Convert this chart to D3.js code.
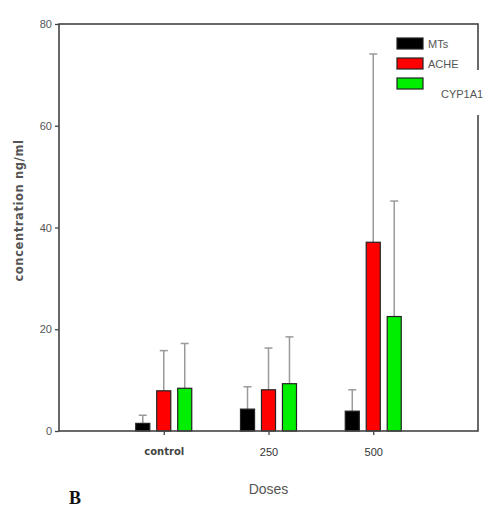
<!DOCTYPE html>
<html>
<head>
<meta charset="utf-8">
<script src="https://cdn.jsdelivr.net/npm/d3@7"></script>
<style>
  body { margin: 0; background: #fff; }
  svg { display: block; }
  .tick-label { font-family: "Liberation Sans Narrow", "Liberation Sans", Arial, sans-serif; fill: #555; }
</style>
</head>
<body>
<div id="chart"></div>
<script>
// data
const doses = ["control", "250", "500"]
const series = ["MTs", "ACHE", "CYP1A1"]
const colors = ["#000000", "#ff0000", "#00ee00"]

const mtsMean = [1.5, 4.3, 3.9]
const mtsErr = [1.6, 4.4, 4.2]
const acheMean = [7.9, 8.1, 37.1]
const acheErr = [7.9, 8.2, 37.0]
const cypMean = [8.4, 9.3, 22.5]
const cypErr = [8.8, 9.2, 22.7]

const yTicks = [0, 20, 40, 60, 80]

const means = [mtsMean, acheMean, cypMean]
const errs = [mtsErr, acheErr, cypErr]

const dataset = []
doses.forEach((dose, i) => {
  series.forEach((s, j) => {
    dataset.push({ dose: dose, series: s, value: means[j][i], err: errs[j][i], color: colors[j] })
  })
})

let dimensions = {
  width: 491,
  height: 507,
  margin: { top: 24, right: 13, bottom: 76, left: 59 },
}
dimensions.boundedWidth = dimensions.width - dimensions.margin.left - dimensions.margin.right
dimensions.boundedHeight = dimensions.height - dimensions.margin.top - dimensions.margin.bottom

const wrapper = d3.select("#chart")
  .append("svg")
    .attr("width", dimensions.width)
    .attr("height", dimensions.height)

const bounds = wrapper.append("g")
    .attr("transform", `translate(${dimensions.margin.left},${dimensions.margin.top})`)

// scales
const xScale = d3.scalePoint()
  .domain(doses)
  .range([0, dimensions.boundedWidth])
  .padding(1)

const subScale = d3.scaleBand()
  .domain(series)
  .range([-28, 28])
  .paddingInner(0.33)

const yScale = d3.scaleLinear()
  .domain([0, 80])
  .range([dimensions.boundedHeight, 0])

// error bars (drawn first, behind bars)
const errG = bounds.append("g")
errG.selectAll("line.err")
  .data(dataset)
  .enter().append("line")
    .attr("x1", d => xScale(d.dose) + subScale(d.series) + subScale.bandwidth() / 2)
    .attr("x2", d => xScale(d.dose) + subScale(d.series) + subScale.bandwidth() / 2)
    .attr("y1", d => yScale(d.value))
    .attr("y2", d => yScale(d.value + d.err))
    .attr("stroke", "#9a9a9a")
    .attr("stroke-width", 1.5)
errG.selectAll("line.cap")
  .data(dataset)
  .enter().append("line")
    .attr("x1", d => xScale(d.dose) + subScale(d.series) + subScale.bandwidth() / 2 - 4)
    .attr("x2", d => xScale(d.dose) + subScale(d.series) + subScale.bandwidth() / 2 + 4)
    .attr("y1", d => yScale(d.value + d.err))
    .attr("y2", d => yScale(d.value + d.err))
    .attr("stroke", "#9a9a9a")
    .attr("stroke-width", 1.5)

// bars
bounds.append("g").selectAll("rect")
  .data(dataset)
  .enter().append("rect")
    .attr("x", d => xScale(d.dose) + subScale(d.series))
    .attr("y", d => yScale(d.value))
    .attr("width", subScale.bandwidth())
    .attr("height", d => dimensions.boundedHeight - yScale(d.value))
    .attr("fill", d => d.color)
    .attr("stroke", "#222")
    .attr("stroke-width", 1.2)

// frame
bounds.append("rect")
  .attr("x", 0).attr("y", 0)
  .attr("width", dimensions.boundedWidth)
  .attr("height", dimensions.boundedHeight)
  .attr("fill", "none")
  .attr("stroke", "#444")
  .attr("stroke-width", 1.6)

// axes
const yAxis = bounds.append("g")
  .call(d3.axisLeft(yScale).tickValues(yTicks).tickSize(4).tickPadding(3))
yAxis.select(".domain").remove()
yAxis.selectAll(".tick line").attr("stroke", "#444").attr("stroke-width", 1.3)
yAxis.selectAll(".tick text")
  .attr("class", "tick-label")
  .style("font-size", "11px")

const xAxis = bounds.append("g")
  .attr("transform", `translate(0,${dimensions.boundedHeight})`)
  .call(d3.axisBottom(xScale).tickSize(4).tickPadding(13))
xAxis.select(".domain").remove()
xAxis.selectAll(".tick line").attr("stroke", "#444").attr("stroke-width", 1.3)
xAxis.selectAll(".tick text")
  .attr("class", "tick-label")
  .style("font-size", "11px")
  .style("fill", "#333")
xAxis.selectAll(".tick text").filter(d => d === "control")
  .style("font-family", "'DejaVu Sans', sans-serif")
  .style("font-size", "10px")
  .style("font-weight", "bold")
  .style("fill", "#444")

// axis labels
bounds.append("text")
  .attr("transform", `translate(${-36},${dimensions.boundedHeight / 2 - 17}) rotate(-90)`)
  .attr("text-anchor", "middle")
  .style("font-family", "'DejaVu Sans', sans-serif")
  .style("font-size", "11.5px")
  .style("font-weight", "bold")
  .style("fill", "#555")
  .style("letter-spacing", "0.6px")
  .text("concentration  ng/ml")

bounds.append("text")
  .attr("x", xScale("250"))
  .attr("y", dimensions.boundedHeight + 63)
  .attr("text-anchor", "middle")
  .style("font-family", "'Liberation Sans Narrow', 'Liberation Sans', Arial, sans-serif")
  .style("font-size", "14px")
  .style("fill", "#555")
  .text("Doses")

wrapper.append("text")
  .attr("x", 75)
  .attr("y", 504)
  .attr("text-anchor", "middle")
  .style("font-family", "'Liberation Serif', 'DejaVu Serif', serif")
  .style("font-size", "18px")
  .style("font-weight", "bold")
  .style("fill", "#111")
  .text("B")

// legend
const legend = wrapper.append("g")

legend.append("rect")
  .attr("x", 428).attr("y", 70)
  .attr("width", 60).attr("height", 45)
  .attr("fill", "#fff")

const legendItems = legend.selectAll("g.item")
  .data(series)
  .enter().append("g")
    .attr("transform", (d, i) => `translate(397,${38 + i * 20})`)

legendItems.append("rect")
  .attr("width", 26)
  .attr("height", 11)
  .attr("fill", (d, i) => colors[i])
  .attr("stroke", "#222")
  .attr("stroke-width", 1.2)

legendItems.append("text")
  .attr("x", (d, i) => i === 2 ? 44 : 31)
  .attr("y", (d, i) => i === 2 ? 16 : 6)
  .attr("dy", "0.35em")
  .attr("class", "tick-label")
  .style("font-size", "11px")
  .text(d => d)
</script>
</body>
</html>
